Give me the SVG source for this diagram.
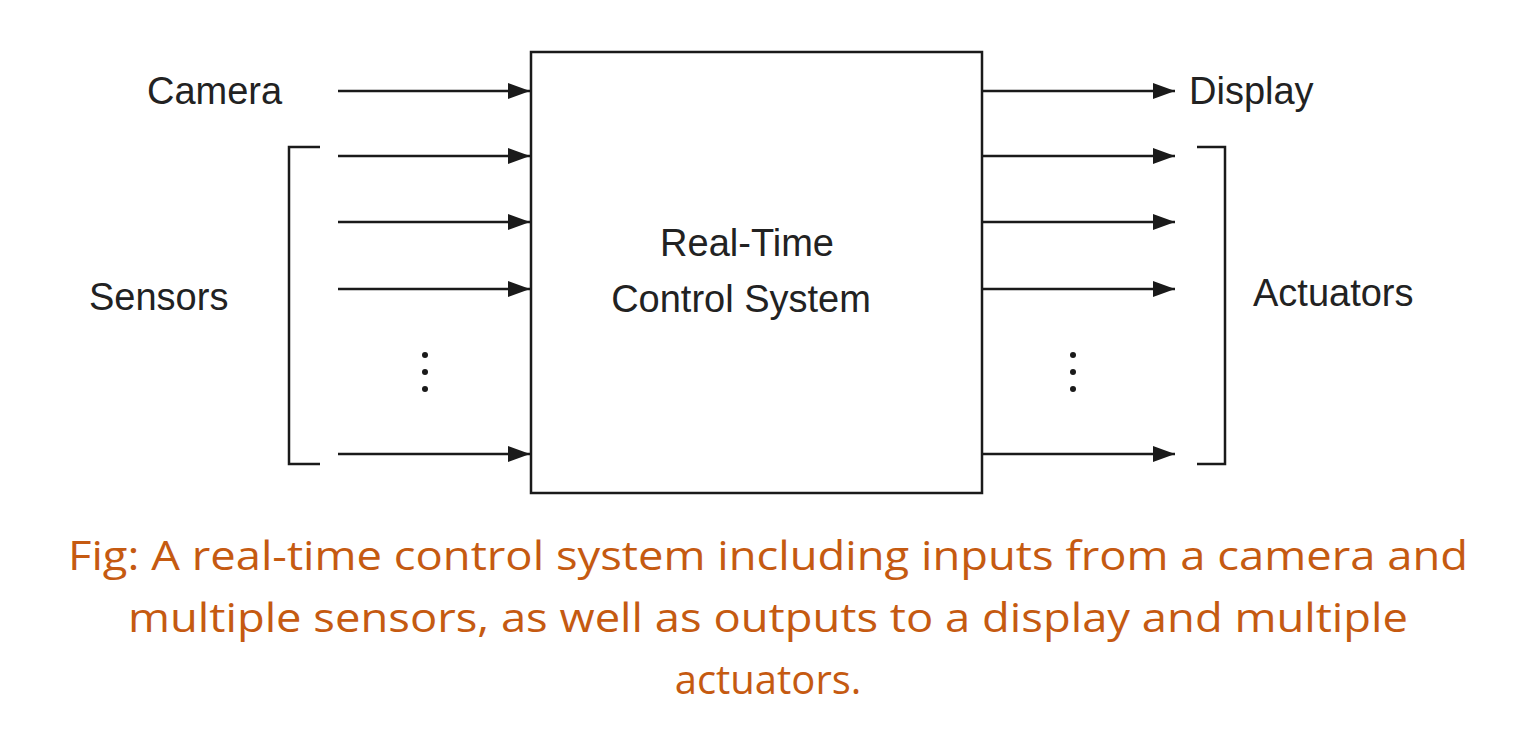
<svg xmlns="http://www.w3.org/2000/svg" width="1536" height="743" viewBox="0 0 1536 743">
<defs>
<marker id="ah" markerWidth="22" markerHeight="16" refX="22" refY="8" orient="auto" markerUnits="userSpaceOnUse"><path d="M0,0 L22,8 L0,16 Z" fill="#1a1a1a"/></marker>
<style>
.l{font-family:"Liberation Sans",Arial,sans-serif;font-size:38px;fill:#222}
.c{font-family:"Open Sans","Liberation Sans",sans-serif;font-size:40px;fill:#C55A11;text-anchor:middle}
.w{stroke:#1a1a1a;stroke-width:2.5;fill:none}
.d{fill:#1a1a1a}
</style>
</defs>
<rect width="1536" height="743" fill="#fff"/>
<g id="system"><rect x="531" y="52" width="451" height="441" class="w"/>
<text class="l" x="747" y="256" text-anchor="middle">Real-Time</text>
<text class="l" x="741" y="312" text-anchor="middle">Control System</text></g>
<g id="camera"><text class="l" x="147" y="104">Camera</text></g>
<g id="sensors"><text class="l" x="89" y="310">Sensors</text>
<path class="w" d="M320,147 H289 V464 H320"/>
<circle class="d" cx="425" cy="355" r="3"/><circle class="d" cx="425" cy="372" r="3"/><circle class="d" cx="425" cy="389" r="3"/></g>
<g id="display"><text class="l" x="1189" y="104">Display</text></g>
<g id="actuators"><text class="l" x="1253" y="306">Actuators</text>
<path class="w" d="M1197,147 H1225 V464 H1197"/>
<circle class="d" cx="1073" cy="355" r="3"/><circle class="d" cx="1073" cy="372" r="3"/><circle class="d" cx="1073" cy="389" r="3"/></g>
<g id="connectors" class="w" marker-end="url(#ah)">
<line x1="338" y1="91" x2="530" y2="91"/><line x1="338" y1="156" x2="530" y2="156"/><line x1="338" y1="222" x2="530" y2="222"/><line x1="338" y1="289" x2="530" y2="289"/><line x1="338" y1="454" x2="530" y2="454"/>
<line x1="982" y1="91" x2="1175" y2="91"/><line x1="982" y1="156" x2="1175" y2="156"/><line x1="982" y1="222" x2="1175" y2="222"/><line x1="982" y1="289" x2="1175" y2="289"/><line x1="982" y1="454" x2="1175" y2="454"/>
</g>
<g id="caption">
<text class="c" x="768" y="570" textLength="1400" lengthAdjust="spacingAndGlyphs">Fig: A real-time control system including inputs from a camera and</text>
<text class="c" x="768" y="632" textLength="1280" lengthAdjust="spacingAndGlyphs">multiple sensors, as well as outputs to a display and multiple</text>
<text class="c" x="768" y="694">actuators.</text>
</g>
</svg>
